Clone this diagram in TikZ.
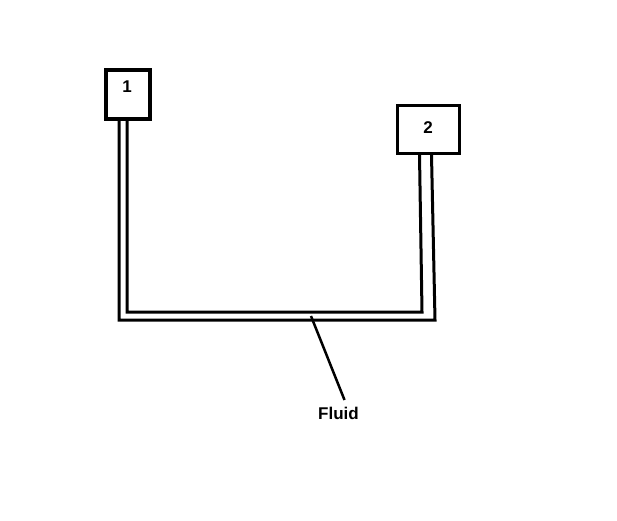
\documentclass[tikz,border=0pt]{standalone}
\usepackage{fontspec}
\setmainfont{Liberation Sans}
\begin{document}
\begin{tikzpicture}[x=1pt,y=-1pt,
  tube/.style={line width=3pt},
  lbl/.style={font=\fontsize{17}{19}\selectfont\bfseries}]
\useasboundingbox[fill=white] (0,0) rectangle (617,520);
% boxes
\draw[line width=4.5pt] (106,70) rectangle (150,119);
\node[lbl] (one) at (127,87) {1};
\draw[line width=3pt] (397,105.5) rectangle (459,153.5);
\node[lbl] (two) at (428,128) {2};
% coordinates
\coordinate (lo1) at (119,121);
\coordinate (li1) at (127,121);
\coordinate (lo2) at (119,320);
\coordinate (li2) at (127,312);
\coordinate (ro1) at (431.5,155);
\coordinate (ri1) at (419.5,155);
\coordinate (ro2) at (435,320);
\coordinate (ri2) at (422,312);
% tube lines
\draw[tube] (lo1) -- (lo2) -- (ro2) -- (ro1);
\draw[tube] (li1) -- (li2) -- (ri2) -- (ri1);
% label
\node[lbl] (fluid) at (338.5,413) {Fluid};
\coordinate (p) at (311,316);
\draw[line width=2.5pt] (p) -- (344.5,400);
\end{tikzpicture}
\end{document}
